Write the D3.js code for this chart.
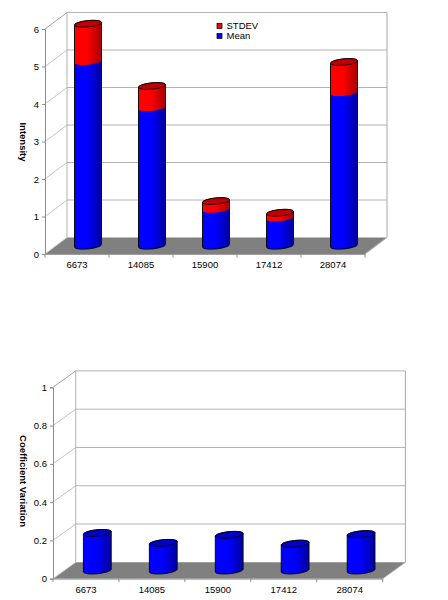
<!DOCTYPE html>
<html>
<head>
<meta charset="utf-8">
<title>Intensity and Coefficient Variation</title>
<script src="https://d3js.org/d3.v7.min.js"></script>
<style>
  html, body { margin: 0; padding: 0; background: #fff; }
  svg { display: block; }
  text { font-family: "Liberation Sans", Arial, sans-serif; fill: #000; }
</style>
</head>
<body>
<div id="chart"></div>
<script>
// values
const categories = ["6673", "14085", "15900", "17412", "28074"];
const meanValues = [4.91, 3.68, 0.97, 0.74, 4.08];
const stdevValues = [1.01, 0.58, 0.22, 0.14, 0.82];
const cvValues = [0.196, 0.144, 0.186, 0.14, 0.19];
const intensityTicks = [0, 1, 2, 3, 4, 5, 6];
const cvTicks = [0, 0.2, 0.4, 0.6, 0.8, 1];

const svg = d3.select("#chart").append("svg")
  .attr("width", 448)
  .attr("height", 600);

// gradients for the cylinder sides
const defs = svg.append("defs");
function addGradient(id, bright, dark) {
  const g = defs.append("linearGradient").attr("id", id);
  g.append("stop").attr("offset", "0%").attr("stop-color", bright);
  g.append("stop").attr("offset", "45%").attr("stop-color", bright);
  g.append("stop").attr("offset", "100%").attr("stop-color", dark);
}
addGradient("blueSide", "#0000ff", "#0000a0");
addGradient("redSide", "#ff0000", "#a80000");

const capColors = { blueSide: "#0000c8", redSide: "#c00000" };

function drawPanel(p) {
  const g = svg.append("g");

  const x = d3.scaleBand().domain(categories).range([p.left, p.right]);
  const y = d3.scaleLinear().domain([0, p.ticks[p.ticks.length - 1]]).range([p.bottom, p.top]);
  const dx = p.depthX, dy = p.depthY;

  // floor
  g.append("path")
    .attr("d", d3.line()([
      [p.left, y(0)], [p.right, y(0)], [p.right + dx, y(0) - dy], [p.left + dx, y(0) - dy]
    ]) + "Z")
    .attr("fill", "#808080");

  // back wall grid and the diagonals on the side wall
  p.ticks.forEach(t => {
    const last = t === p.ticks[p.ticks.length - 1];
    g.append("line")
      .attr("x1", p.left + dx).attr("x2", p.right + dx)
      .attr("y1", y(t) - dy).attr("y2", y(t) - dy)
      .attr("stroke", t === 0 ? "none" : "#b2b2b2").attr("stroke-width", 1);
    g.append("line")
      .attr("x1", p.left).attr("x2", p.left + dx)
      .attr("y1", y(t)).attr("y2", y(t) - dy)
      .attr("stroke", last ? "#a0a0a0" : "#c4c4c4").attr("stroke-width", 1);
  });
  g.append("line")
    .attr("x1", p.left + dx).attr("x2", p.left + dx)
    .attr("y1", y.range()[1] - dy).attr("y2", y(0) - dy)
    .attr("stroke", "#b2b2b2");
  g.append("line")
    .attr("x1", p.right + dx).attr("x2", p.right + dx)
    .attr("y1", y.range()[1] - dy).attr("y2", y(0) - dy)
    .attr("stroke", "#a8a8a8");
  g.append("line")
    .attr("x1", p.right).attr("x2", p.right + dx)
    .attr("y1", y(0)).attr("y2", y(0) - dy)
    .attr("stroke", "#b2b2b2");

  // axes
  const yAxis = g.append("g")
    .attr("transform", `translate(${p.left},0)`)
    .call(d3.axisLeft(y).tickValues(p.ticks).tickFormat(d => d).tickSize(3).tickPadding(3));
  yAxis.select(".domain").attr("stroke", "#8c8c8c");
  yAxis.selectAll(".tick line").attr("stroke", "#8c8c8c");
  yAxis.selectAll("text").style("font-size", "9.5px");

  const xAxis = g.append("g")
    .attr("transform", `translate(0,${y(0)})`)
    .call(d3.axisBottom(x).tickSize(0).tickPadding(7.5));
  xAxis.select(".domain").attr("stroke", "#a0a0a0");
  xAxis.selectAll("text").style("font-size", "9.5px");

  // ticks sit between the categories
  const edges = categories.map(c => x(c)).concat(p.right);
  g.selectAll(null).data(edges).join("line")
    .attr("x1", d => d).attr("x2", d => d)
    .attr("y1", y(0)).attr("y2", y(0) + 3.5)
    .attr("stroke", "#8c8c8c");

  // axis title
  g.append("text")
    .attr("transform", `translate(${p.titleX},${p.titleY}) rotate(90)`)
    .attr("text-anchor", "middle")
    .attr("font-weight", "bold")
    .style("font-size", "9.5px")
    .text(p.title);

  // cylinders
  const ax = p.radius * 0.925, bx = p.radius * 0.38, by = -p.tilt;
  const t0 = Math.atan2(bx, ax);
  const rim = (cx, cy, t) => [cx + ax * Math.cos(t) + bx * Math.sin(t), cy + by * Math.sin(t)];
  const arc = (cx, cy, from, to) => d3.range(25).map(i => rim(cx, cy, from + (to - from) * i / 24));
  const line = d3.line();

  categories.forEach((c, i) => {
    const cx = x(c) + x.bandwidth() / 2 + dx / 2;
    let base = 0;
    let sum = 0;
    p.series.forEach(s => { sum += s.values[i]; });
    const yBottom = y(0) - dy / 2;
    const yLevel = v => y(v) - dy / 2;

    p.series.forEach(s => {
      const top = base + s.values[i];
      const pts = arc(cx, yLevel(base), t0 - Math.PI, t0).concat(arc(cx, yLevel(top), t0, t0 + Math.PI));
      g.append("path").attr("d", line(pts) + "Z").attr("fill", `url(#${s.fill})`);
      base = top;
    });

    // outline of the whole cylinder, then the cap
    const outline = arc(cx, yBottom, t0 - Math.PI, t0).concat(arc(cx, yLevel(sum), t0, t0 + Math.PI));
    g.append("path").attr("d", line(outline) + "Z")
      .attr("fill", "none").attr("stroke", "#000").attr("stroke-width", 0.9);
    const capFill = capColors[p.series[p.series.length - 1].fill];
    g.append("path").attr("d", line(arc(cx, yLevel(sum), 0, Math.PI * 2)) + "Z")
      .attr("fill", capFill).attr("stroke", "#000").attr("stroke-width", 0.8);
  });

  // legend, if any
  if (p.legend) {
    p.legend.forEach((l, i) => {
      const ly = p.legendY + i * p.legendStep;
      g.append("rect")
        .attr("x", p.legendX).attr("y", ly - 2.5)
        .attr("width", 5).attr("height", 5)
        .attr("fill", l.color).attr("stroke", "#000").attr("stroke-width", 0.7);
      g.append("text")
        .attr("x", p.legendX + 9.5).attr("y", ly + 3.4)
        .style("font-size", "9.5px")
        .text(l.name);
    });
  }
}

drawPanel({
  left: 45, right: 365, bottom: 254, top: 29,
  depthX: 22, depthY: 16.5,
  radius: 13.5, tilt: 3.4,
  ticks: intensityTicks,
  title: "Intensity", titleX: 19.5, titleY: 142,
  series: [
    { values: meanValues, fill: "blueSide" },
    { values: stdevValues, fill: "redSide" }
  ],
  legend: [
    { name: "STDEV", color: "#ff0000" },
    { name: "Mean", color: "#0000ff" }
  ],
  legendX: 217, legendY: 26, legendStep: 10
});

drawPanel({
  left: 53, right: 382.7, bottom: 578.7, top: 387.3,
  depthX: 22.7, depthY: 16.4,
  radius: 13.9, tilt: 3.5,
  ticks: cvTicks,
  title: "Coefficient Variation", titleX: 20, titleY: 481,
  series: [
    { values: cvValues, fill: "blueSide" }
  ]
});
</script>
</body>
</html>
